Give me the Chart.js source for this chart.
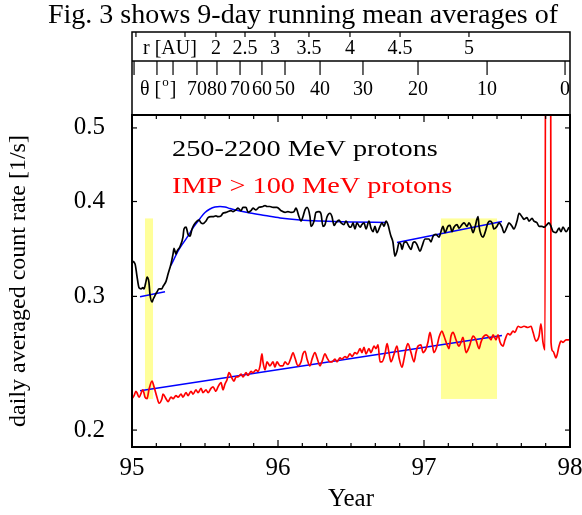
<!DOCTYPE html>
<html>
<head>
<meta charset="utf-8">
<script src="https://cdn.jsdelivr.net/npm/chart.js@4"></script>
<style>
  html, body { margin: 0; padding: 0; background: #fff; }
</style>
</head>
<body>
<canvas id="fig3" width="582" height="515"></canvas>
<script>
// 250-2200 MeV protons, 9-day running mean
var blackYears = [
  95.000, 95.021, 95.034, 95.048, 95.062, 95.075, 95.082, 95.096, 95.103, 95.116,
  95.123, 95.137, 95.144, 95.158, 95.171, 95.185, 95.205, 95.212, 95.233, 95.247,
  95.267, 95.281, 95.288, 95.301, 95.308, 95.329, 95.349, 95.356, 95.370, 95.384,
  95.397, 95.411, 95.425, 95.445, 95.459, 95.473, 95.486, 95.507, 95.521, 95.541,
  95.555, 95.575, 95.589, 95.610, 95.623, 95.644, 95.658, 95.678, 95.692, 95.712,
  95.726, 95.747, 95.760, 95.781, 95.795, 95.815, 95.829, 95.849, 95.870, 95.897,
  95.911, 95.925, 95.945, 95.966, 95.993, 96.021, 96.048, 96.068, 96.089, 96.110,
  96.123, 96.144, 96.158, 96.171, 96.185, 96.199, 96.219, 96.226, 96.247, 96.260,
  96.281, 96.295, 96.308, 96.322, 96.336, 96.356, 96.370, 96.384, 96.397, 96.418,
  96.432, 96.452, 96.466, 96.486, 96.500, 96.514, 96.527, 96.541, 96.562, 96.575,
  96.589, 96.603, 96.623, 96.637, 96.651, 96.664, 96.678, 96.699, 96.712, 96.726,
  96.740, 96.753, 96.767, 96.774, 96.788, 96.795, 96.801, 96.815, 96.829, 96.842,
  96.849, 96.863, 96.877, 96.897, 96.911, 96.925, 96.938, 96.952, 96.973, 96.986,
  97.007, 97.034, 97.048, 97.062, 97.082, 97.103, 97.116, 97.130, 97.144, 97.164,
  97.178, 97.192, 97.205, 97.226, 97.240, 97.260, 97.274, 97.295, 97.308, 97.322,
  97.336, 97.349, 97.370, 97.377, 97.390, 97.404, 97.418, 97.438, 97.452, 97.466,
  97.479, 97.500, 97.514, 97.534, 97.548, 97.568, 97.582, 97.603, 97.616, 97.637,
  97.651, 97.671, 97.685, 97.705, 97.719, 97.740, 97.753, 97.774, 97.788, 97.808,
  97.822, 97.842, 97.856, 97.870, 97.884, 97.904, 97.925, 97.938, 97.952, 97.973,
  97.993
];
var blackRate = [
  0.334, 0.331, 0.319, 0.308, 0.307, 0.308, 0.307, 0.314, 0.318, 0.313,
  0.302, 0.295, 0.297, 0.301, 0.304, 0.307, 0.307, 0.309, 0.314, 0.321,
  0.331, 0.341, 0.347, 0.341, 0.344, 0.349, 0.359, 0.368, 0.370, 0.362,
  0.360, 0.368, 0.373, 0.377, 0.378, 0.375, 0.374, 0.377, 0.381, 0.382,
  0.382, 0.383, 0.382, 0.383, 0.386, 0.387, 0.388, 0.389, 0.388, 0.390,
  0.392, 0.389, 0.393, 0.393, 0.387, 0.389, 0.392, 0.390, 0.393, 0.394,
  0.395, 0.394, 0.394, 0.393, 0.393, 0.389, 0.387, 0.388, 0.387, 0.388,
  0.392, 0.382, 0.377, 0.382, 0.390, 0.393, 0.382, 0.371, 0.377, 0.387,
  0.388, 0.385, 0.371, 0.373, 0.382, 0.386, 0.382, 0.372, 0.375, 0.378,
  0.375, 0.373, 0.377, 0.371, 0.370, 0.375, 0.368, 0.375, 0.370, 0.373,
  0.375, 0.368, 0.377, 0.369, 0.365, 0.371, 0.364, 0.371, 0.375, 0.371,
  0.377, 0.373, 0.364, 0.360, 0.353, 0.344, 0.339, 0.344, 0.353, 0.351,
  0.346, 0.353, 0.354, 0.349, 0.346, 0.353, 0.354, 0.351, 0.344, 0.349,
  0.357, 0.357, 0.354, 0.360, 0.362, 0.359, 0.365, 0.371, 0.364, 0.371,
  0.372, 0.365, 0.370, 0.373, 0.369, 0.373, 0.375, 0.371, 0.375, 0.371,
  0.364, 0.370, 0.382, 0.371, 0.362, 0.359, 0.364, 0.375, 0.377, 0.375,
  0.368, 0.371, 0.375, 0.370, 0.364, 0.370, 0.375, 0.371, 0.368, 0.377,
  0.386, 0.382, 0.379, 0.381, 0.377, 0.380, 0.377, 0.375, 0.371, 0.371,
  0.370, 0.373, 0.375, 0.371, 0.365, 0.364, 0.369, 0.365, 0.370, 0.365,
  0.370
];

// IMP > 100 MeV protons
var redYears = [
  95.000, 95.014, 95.027, 95.034, 95.048, 95.075, 95.089, 95.103, 95.116, 95.137,
  95.151, 95.171, 95.185, 95.205, 95.212, 95.233, 95.247, 95.267, 95.281, 95.301,
  95.315, 95.336, 95.349, 95.370, 95.384, 95.404, 95.418, 95.438, 95.452, 95.473,
  95.486, 95.507, 95.521, 95.541, 95.555, 95.575, 95.589, 95.610, 95.623, 95.637,
  95.651, 95.664, 95.685, 95.699, 95.712, 95.726, 95.747, 95.760, 95.781, 95.795,
  95.815, 95.829, 95.849, 95.863, 95.877, 95.890, 95.897, 95.911, 95.925, 95.945,
  95.966, 95.979, 95.993, 96.014, 96.034, 96.048, 96.068, 96.089, 96.103, 96.116,
  96.137, 96.158, 96.171, 96.185, 96.199, 96.219, 96.233, 96.253, 96.267, 96.288,
  96.301, 96.322, 96.336, 96.356, 96.370, 96.390, 96.404, 96.425, 96.438, 96.459,
  96.473, 96.493, 96.507, 96.527, 96.541, 96.562, 96.575, 96.589, 96.603, 96.623,
  96.637, 96.658, 96.671, 96.685, 96.699, 96.712, 96.733, 96.747, 96.760, 96.774,
  96.795, 96.815, 96.829, 96.849, 96.863, 96.877, 96.890, 96.911, 96.932, 96.945,
  96.959, 96.979, 96.993, 97.014, 97.027, 97.041, 97.055, 97.068, 97.089, 97.103,
  97.123, 97.137, 97.158, 97.171, 97.185, 97.199, 97.219, 97.240, 97.253, 97.267,
  97.288, 97.308, 97.322, 97.336, 97.356, 97.377, 97.390, 97.404, 97.425, 97.445,
  97.459, 97.473, 97.493, 97.507, 97.521, 97.541, 97.555, 97.575, 97.589, 97.610,
  97.623, 97.644, 97.664, 97.685, 97.712, 97.733, 97.747, 97.767, 97.788, 97.801,
  97.815, 97.829, 97.836, 97.863, 97.870, 97.884, 97.904, 97.925, 97.938, 97.952,
  97.973, 97.993
];
var redRate = [
  0.220, 0.222, 0.225, 0.224, 0.221, 0.226, 0.221, 0.220, 0.226, 0.232,
  0.228, 0.221, 0.217, 0.220, 0.223, 0.220, 0.218, 0.221, 0.220, 0.222,
  0.221, 0.223, 0.221, 0.224, 0.222, 0.225, 0.223, 0.226, 0.224, 0.227,
  0.224, 0.226, 0.224, 0.227, 0.228, 0.225, 0.228, 0.231, 0.226, 0.230,
  0.233, 0.238, 0.234, 0.232, 0.235, 0.235, 0.237, 0.235, 0.238, 0.236,
  0.239, 0.238, 0.240, 0.239, 0.243, 0.252, 0.246, 0.240, 0.246, 0.243,
  0.246, 0.242, 0.246, 0.243, 0.243, 0.246, 0.244, 0.249, 0.253, 0.249,
  0.243, 0.246, 0.252, 0.254, 0.248, 0.243, 0.248, 0.253, 0.249, 0.243,
  0.246, 0.252, 0.249, 0.246, 0.246, 0.248, 0.246, 0.249, 0.248, 0.250,
  0.249, 0.252, 0.250, 0.253, 0.252, 0.256, 0.253, 0.257, 0.252, 0.256,
  0.253, 0.258, 0.256, 0.259, 0.246, 0.246, 0.252, 0.260, 0.253, 0.246,
  0.252, 0.258, 0.249, 0.242, 0.248, 0.256, 0.260, 0.253, 0.246, 0.253,
  0.258, 0.259, 0.253, 0.256, 0.261, 0.269, 0.261, 0.253, 0.258, 0.265,
  0.270, 0.266, 0.259, 0.256, 0.266, 0.269, 0.263, 0.258, 0.261, 0.265,
  0.253, 0.257, 0.262, 0.266, 0.263, 0.256, 0.261, 0.265, 0.267, 0.265,
  0.263, 0.267, 0.263, 0.267, 0.261, 0.258, 0.263, 0.268, 0.267, 0.270,
  0.269, 0.274, 0.273, 0.274, 0.273, 0.274, 0.269, 0.262, 0.266, 0.276,
  0.261, 0.255, 3.0, 3.0, 0.261, 0.254, 0.249, 0.258, 0.262, 0.261,
  0.263, 0.263
];

// model / trend fits (blue)
var fitEarlyYears = [95.055, 95.226];
var fitEarlyRate = [0.2996, 0.3042];
var fitRiseYears = [95.267, 95.322, 95.377, 95.425, 95.466, 95.500, 95.534, 95.568, 95.603, 95.637,
  95.671, 95.740, 95.808, 95.911, 96.014, 96.151, 96.288, 96.493, 96.740];
var fitRiseRate = [0.3296, 0.3459, 0.3587, 0.3709, 0.3800, 0.3869, 0.3910, 0.3934, 0.3940, 0.3934,
  0.3916, 0.3887, 0.3863, 0.3834, 0.3806, 0.3783, 0.3771, 0.3760, 0.3754];
var fitLateYears = [96.815, 97.534];
var fitLateRate = [0.3533, 0.3765];
var fitImpYears = [95.055, 97.534];
var fitImpRate = [0.2253, 0.2665];

// shaded intervals (years) and their rate span
var bandYears = [[95.089, 95.144], [97.116, 97.500]];
var bandRate = [0.2198, 0.3800];

// axis ticks
var yTicks = [0.2, 0.3, 0.4, 0.5];
var rTickYears = [95.027, 95.363, 95.575, 95.774, 95.979, 96.212, 96.493, 96.836, 97.308];
var rTickLabels = ['', '', '2', '2.5', '3', '3.5', '4', '4.5', '5'];
var thetaTickYears = [95.014, 95.171, 95.281, 95.445, 95.582, 95.740, 95.890, 96.048, 96.288,
  96.582, 96.959, 97.432, 97.966];
var thetaTickLabels = ['', '', '', '70', '80', '70', '60', '50', '40', '30', '20', '10', '0'];

var SERIF = '"Liberation Serif", "Times New Roman", serif';

function pts(xs, ys) {
  return xs.map(function (v, i) { return { x: v, y: ys[i] }; });
}

function say(ctx, str, x, y, size, color, align, sx) {
  ctx.save();
  ctx.font = size + 'px ' + SERIF;
  ctx.fillStyle = color;
  ctx.textAlign = align || 'left';
  ctx.textBaseline = 'alphabetic';
  ctx.translate(x, y);
  ctx.scale(sx || 1, 1);
  ctx.fillText(str, 0, 0);
  ctx.restore();
}

function line(ctx, x0, y0, x1, y1) {
  ctx.beginPath();
  ctx.moveTo(x0, y0);
  ctx.lineTo(x1, y1);
  ctx.stroke();
}

var figureParts = {
  id: 'figureParts',
  beforeDatasetsDraw: function (chart) {
    var xs = chart.scales.x, ys = chart.scales.y, ctx = chart.ctx;
    ctx.save();
    ctx.fillStyle = '#ffff99';
    bandYears.forEach(function (b) {
      var x0 = xs.getPixelForValue(b[0]), x1 = xs.getPixelForValue(b[1]);
      var y0 = ys.getPixelForValue(bandRate[1]), y1 = ys.getPixelForValue(bandRate[0]);
      ctx.fillRect(x0, y0, x1 - x0, y1 - y0);
    });
    ctx.restore();
  },
  afterDraw: function (chart) {
    var xs = chart.scales.x, ys = chart.scales.y, ctx = chart.ctx;
    var a = chart.chartArea;
    ctx.save();
    ctx.strokeStyle = '#000';

    // main frame
    ctx.lineWidth = 2;
    ctx.strokeRect(a.left, a.top, a.right - a.left, a.bottom - a.top);

    // inward ticks
    ctx.lineWidth = 1.2;
    for (var k = 0; k <= 18; k++) {
      var px = xs.getPixelForValue(95 + k / 6);
      var len = (k % 6 === 0) ? 7 : 4;
      line(ctx, px, a.bottom, px, a.bottom - len);
      line(ctx, px, a.top, px, a.top + len);
    }
    yTicks.forEach(function (v) {
      var py = ys.getPixelForValue(v);
      line(ctx, a.left, py, a.left + 5, py);
      line(ctx, a.right, py, a.right - 5, py);
    });

    // orbit panels above the plot
    var top = 32, mid = 61;
    ctx.lineWidth = 1.5;
    ctx.strokeRect(a.left, top, a.right - a.left, a.top - top);
    line(ctx, a.left, mid, a.right, mid);
    ctx.lineWidth = 1.2;
    rTickYears.forEach(function (v, i) {
      var px = xs.getPixelForValue(v);
      line(ctx, px, top, px, top + 5);
      if (rTickLabels[i]) say(ctx, rTickLabels[i], px, 54, 20, '#000', 'center');
    });
    say(ctx, 'r [AU]', 143, 54, 20, '#000', 'left');
    thetaTickYears.forEach(function (v, i) {
      var px = xs.getPixelForValue(v);
      line(ctx, px, mid, px, mid + 14);
      if (thetaTickLabels[i]) say(ctx, thetaTickLabels[i], px, 95, 20, '#000', 'center');
    });
    ctx.font = '20px ' + SERIF;
    var w1 = ctx.measureText('\u03b8 [').width;
    say(ctx, '\u03b8 [', 140, 95, 20, '#000', 'left');
    ctx.font = '13px ' + SERIF;
    var w2 = ctx.measureText('o').width;
    say(ctx, 'o', 140 + w1 + 1, 86, 13, '#000', 'left');
    say(ctx, ']', 140 + w1 + w2 + 2, 95, 20, '#000', 'left');

    // series names inside the plot
    say(ctx, '250-2200 MeV protons', 172, 156, 24, '#000', 'left', 1.18);
    say(ctx, 'IMP > 100 MeV protons', 172, 193, 24, '#ff0000', 'left', 1.18);

    // running text line above the figure
    say(ctx, 'Fig. 3 shows 9-day running mean averages of', 303, 23, 28, '#000', 'center');
    ctx.restore();
  }
};

new Chart(document.getElementById('fig3'), {
  type: 'line',
  data: {
    datasets: [
      { label: '250-2200 MeV protons', data: pts(blackYears, blackRate), borderColor: '#000000', borderWidth: 1.7, cubicInterpolationMode: 'monotone' },
      { label: 'IMP > 100 MeV protons', data: pts(redYears, redRate), borderColor: '#ff0000', borderWidth: 1.7, cubicInterpolationMode: 'monotone' },
      { label: 'fit', data: pts(fitEarlyYears, fitEarlyRate), borderColor: '#0000ff', borderWidth: 1.5 },
      { label: 'fit', data: pts(fitRiseYears, fitRiseRate), borderColor: '#0000ff', borderWidth: 1.5, cubicInterpolationMode: 'monotone' },
      { label: 'fit', data: pts(fitLateYears, fitLateRate), borderColor: '#0000ff', borderWidth: 1.5 },
      { label: 'fit', data: pts(fitImpYears, fitImpRate), borderColor: '#0000ff', borderWidth: 1.5 }
    ]
  },
  options: {
    responsive: false,
    animation: false,
    clip: 0,
    elements: { point: { radius: 0 }, line: { tension: 0, fill: false } },
    layout: { padding: { top: 115, right: 12, left: 0, bottom: 0 } },
    plugins: {
      legend: { display: false },
      title: { display: false },
      tooltip: { enabled: false }
    },
    scales: {
      x: {
        type: 'linear',
        min: 95,
        max: 98,
        grid: { display: false, drawTicks: false },
        border: { display: false },
        ticks: {
          stepSize: 1,
          padding: 9,
          color: '#000',
          font: { family: SERIF, size: 25, lineHeight: 1 }
        },
        title: {
          display: true,
          text: 'Year',
          color: '#000',
          font: { family: SERIF, size: 25, lineHeight: 1 },
          padding: { top: 0, bottom: 3 }
        },
        afterFit: function (s) { s.height = 68; s.paddingLeft = 0; s.paddingRight = 0; }
      },
      y: {
        type: 'logarithmic',
        min: 0.19,
        max: 0.52,
        grid: { display: false, drawTicks: false },
        border: { display: false },
        afterBuildTicks: function (s) {
          s.ticks = yTicks.map(function (v) { return { value: v }; });
        },
        ticks: {
          padding: 27,
          color: '#000',
          font: { family: SERIF, size: 25, lineHeight: 1 },
          callback: function (v) { return Number(v).toFixed(1); }
        },
        title: {
          display: true,
          text: 'daily averaged count rate [1/s]',
          color: '#000',
          font: { family: SERIF, size: 24, lineHeight: 1 },
          padding: { top: 7, bottom: 0 }
        },
        afterFit: function (s) { s.width = 132; s.paddingTop = 0; s.paddingBottom = 0; }
      }
    }
  },
  plugins: [figureParts]
});
</script>
</body>
</html>
